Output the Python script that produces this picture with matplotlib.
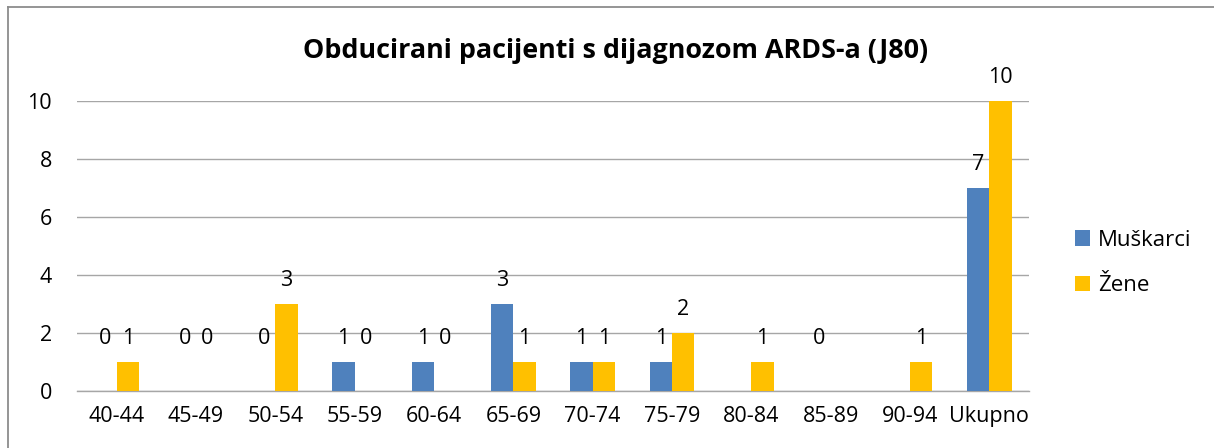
import numpy as np
import matplotlib
matplotlib.use("Agg")
import matplotlib.pyplot as plt
from matplotlib.lines import Line2D
from matplotlib.patches import Patch

plt.rcParams['font.family'] = ['Open Sans', 'DejaVu Sans']

categories = ["40-44", "45-49", "50-54", "55-59", "60-64", "65-69", "70-74",
              "75-79", "80-84", "85-89", "90-94", "Ukupno"]
muskarci = [0, 0, 0, 1, 1, 3, 1, 1, None, 0, None, 7]
zene = [1, 0, 3, 0, 0, 1, 1, 2, 1, None, 1, 10]
series_names = ["Muškarci", "Žene"]
colors = ["#4F81BD", "#FFC000"]
yticks = [0, 2, 4, 6, 8, 10]
title = "Obducirani pacijenti s dijagnozom ARDS-a (J80)"

W, H = 1214, 448
fig = plt.figure(figsize=(W / 100, H / 100), dpi=100)
ax = fig.add_axes([77 / W, 1 - 390.7 / H, (1029 - 77) / W, (390.7 - 100.7) / H])

x = np.arange(len(categories))
bw = 0.28
grid_c = "#A6A6A6"
fs = 15.5

for i, (vals, col) in enumerate(zip([muskarci, zene], colors)):
    off = (i - 0.5) * bw
    v = np.array([np.nan if a is None else a for a in vals], dtype=float)
    ax.bar(x + off, np.nan_to_num(v), width=bw, color=col, zorder=3)
    for xi, val in zip(x, vals):
        if val is None:
            continue
        ax.annotate(str(val), (xi + off, max(val, 1)), xytext=(0, 16.5),
                    textcoords="offset points", ha="center", va="center",
                    fontsize=fs, color="black")

ax.set_xlim(-0.5, len(categories) - 0.5)
ax.set_ylim(0, 10)
ax.set_yticks(yticks)
ax.set_xticks(x)
ax.set_xticklabels(categories)
ax.tick_params(axis="both", length=0, labelsize=fs)
ax.tick_params(axis="y", pad=18)
ax.tick_params(axis="x", pad=11)
ax.yaxis.grid(True, color=grid_c, linewidth=1.0, zorder=0)
for s in ["left", "right", "top"]:
    ax.spines[s].set_visible(False)
ax.spines["bottom"].set_color(grid_c)
ax.spines["bottom"].set_linewidth(1.0)
ax.set_axisbelow(True)

fig.text(615.5 / W, 1 - 58 / H, title, ha="center", va="baseline",
         fontsize=19.4, fontweight="bold")

handles = [Patch(facecolor=c, edgecolor="none") for c in colors]
leg = fig.legend(handles, series_names, loc="center left",
                 bbox_to_anchor=(1066 / W, 1 - 263 / H), frameon=False,
                 fontsize=16, handlelength=0.68, handleheight=0.68,
                 handletextpad=0.35, labelspacing=1.1, borderaxespad=0)

# chart border (left and top edges visible)
fig.add_artist(Line2D([8 / W, 8 / W], [0, 1 - 7 / H], transform=fig.transFigure,
                      color="#8C8C8C", linewidth=1.3))
fig.add_artist(Line2D([8 / W, 1], [1 - 7 / H, 1 - 7 / H], transform=fig.transFigure,
                      color="#8C8C8C", linewidth=1.3))

fig.savefig("out.png", dpi=100)
